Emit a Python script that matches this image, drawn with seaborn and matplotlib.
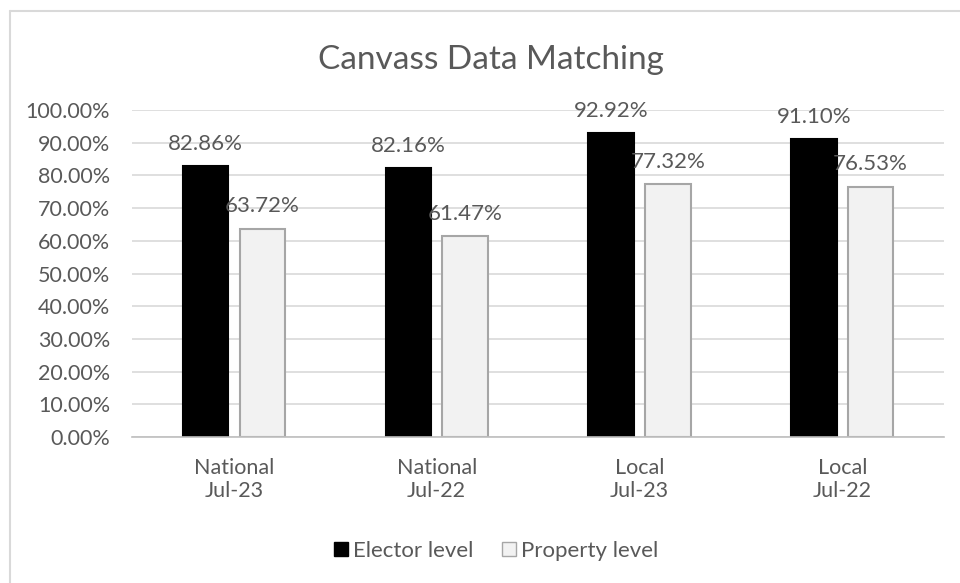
import pandas as pd
import numpy as np
import matplotlib.pyplot as plt
import seaborn as sns
from matplotlib.patches import Rectangle
from matplotlib.lines import Line2D

# Data
categories = ['National\nJul-23', 'National\nJul-22', 'Local\nJul-23', 'Local\nJul-22']
elector_level = [0.8286, 0.8216, 0.9292, 0.9110]
property_level = [0.6372, 0.6147, 0.7732, 0.7653]
series_names = ['Elector level', 'Property level']

data = pd.DataFrame({
    'Category': categories * 2,
    'Value': elector_level + property_level,
    'Series': [series_names[0]] * 4 + [series_names[1]] * 4,
})

sns.set_style('white')
plt.rcParams['font.family'] = ['Lato', 'DejaVu Sans']

txt = '#595959'
fig = plt.figure(figsize=(9.6, 5.83), dpi=100)
ax = fig.add_axes([0.138, 0.2504, 0.845, 0.5609])

sns.barplot(data=data, x='Category', y='Value', hue='Series',
            palette=['#000000', '#f2f2f2'], width=0.56, gap=0.2,
            ax=ax, legend=False, saturation=1)

# bar edges
for i, p in enumerate(ax.patches):
    if i < 4:
        p.set_edgecolor('#000000')
    else:
        p.set_edgecolor('#a6a6a6')
    p.set_linewidth(1.5)

# data labels
for cont in ax.containers:
    ax.bar_label(cont, labels=[f'{v * 100:.2f}%' for v in cont.datavalues],
                 padding=9, fontsize=16, color=txt)

ax.set_ylim(0, 1.0)
ax.set_xlim(-0.5, 3.5)
ax.set_yticks(np.arange(0, 1.01, 0.1))
ax.set_yticklabels([f'{t * 100:.2f}%' for t in np.arange(0, 1.01, 0.1)])
ax.yaxis.grid(True, color='#d9d9d9', linewidth=1.2)
ax.set_axisbelow(True)
for s in ['top', 'right', 'left']:
    ax.spines[s].set_visible(False)
ax.spines['bottom'].set_color('#bfbfbf')
ax.spines['bottom'].set_linewidth(1.2)
ax.tick_params(axis='both', colors=txt, labelsize=15.5, length=0)
ax.tick_params(axis='y', pad=16)
ax.tick_params(axis='x', pad=15)
ax.set_xlabel('')
ax.set_ylabel('')

fig.text(0.511, 0.897, 'Canvass Data Matching', ha='center', va='center',
         fontsize=24, color=txt)

# legend
handles = [Rectangle((0, 0), 1, 1, facecolor='#000000', edgecolor='#000000'),
           Rectangle((0, 0), 1, 1, facecolor='#f2f2f2', edgecolor='#a6a6a6')]
leg = fig.legend(handles, series_names, loc='center', bbox_to_anchor=(0.517, 0.055),
                 ncol=2, frameon=False, fontsize=16, handlelength=0.6,
                 handleheight=0.6, handletextpad=0.25, columnspacing=1.3)
for t in leg.get_texts():
    t.set_color(txt)

# chart frame (left and top edges visible)
fig.add_artist(Line2D([10 / 960, 10 / 960], [0, 1 - 11 / 583], color='#d9d9d9', lw=1.5))
fig.add_artist(Line2D([10 / 960, 1], [1 - 11 / 583, 1 - 11 / 583], color='#d9d9d9', lw=1.5))

plt.savefig('out.png', dpi=100)
